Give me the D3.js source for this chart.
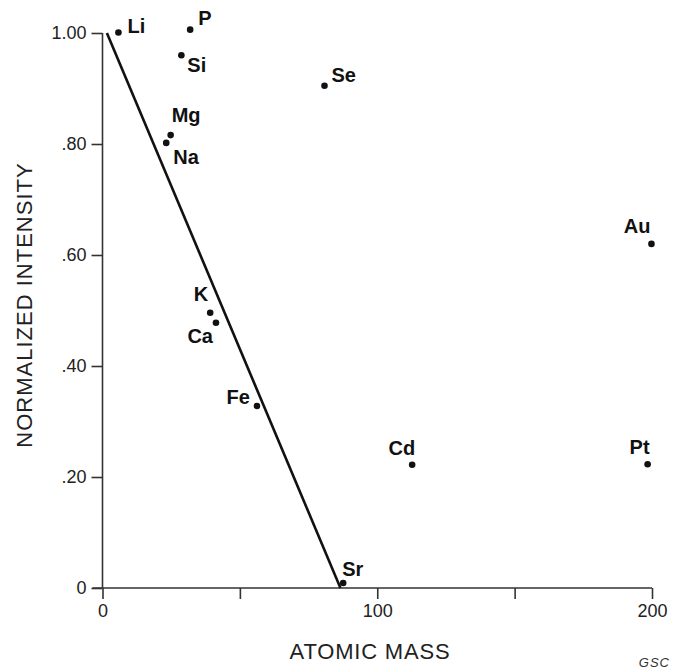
<!DOCTYPE html>
<html>
<head>
<meta charset="utf-8">
<script src="https://cdn.jsdelivr.net/npm/d3@7"></script>
<style>
  body { margin: 0; background: #fff; }
  svg { font-family: "Liberation Sans", Arial, sans-serif; }
</style>
</head>
<body>
<div id="chart"></div>
<script>
// Size of the page and plot area
const width = 674;
const height = 672;
const margin = { left: 102.5, right: 22, top: 33, bottom: 84 };

// Data
const elements = ["Li", "P", "Si", "Se", "Mg", "Na", "K", "Ca", "Fe", "Sr", "Cd", "Pt", "Au"];
const atomicMass = [5.8, 31.9, 28.7, 80.8, 24.8, 23.2, 39.2, 41.3, 56.2, 87.6, 112.7, 198.4, 199.8];
const intensity = [1.001, 1.006, 0.960, 0.905, 0.816, 0.802, 0.496, 0.478, 0.328, 0.009, 0.222, 0.223, 0.620];
const fitLine = [{ x: 1.6, y: 1.0 }, { x: 86.6, y: 0.0 }];

const xTicks = [0, 50, 100, 150, 200];
const xTickLabels = ["0", "", "100", "", "200"];
const yTicks = [0, 0.2, 0.4, 0.6, 0.8, 1.0];
const yTickLabels = ["0", ".20", ".40", ".60", ".80", "1.00"];

// label placement (offset from dot, text anchor)
const labelPos = {
  Li: [9, 1, "start"], P: [8, -5, "start"], Si: [6, 17, "start"],
  Se: [7, -4, "start"], Mg: [1, -13, "start"], Na: [7, 21, "start"],
  K: [-2, -12, "end"], Ca: [-3, 20, "end"], Fe: [-7, -2, "end"],
  Sr: [-1, -7, "start"], Cd: [3, -10, "end"], Pt: [2, -10, "end"],
  Au: [-1, -11, "end"]
};

const data = elements.map((e, i) => ({ name: e, x: atomicMass[i], y: intensity[i] }));

const svg = d3.select("#chart")
  .append("svg")
  .attr("width", width)
  .attr("height", height);

// scales
const xScale = d3.scaleLinear()
  .domain([0, 200])
  .range([margin.left, width - margin.right]);

const yScale = d3.scaleLinear()
  .domain([0, 1])
  .range([height - margin.bottom, margin.top]);

// y axis
const yAxis = svg.append("g")
  .attr("transform", `translate(${margin.left},0)`)
  .call(d3.axisLeft(yScale)
    .tickValues(yTicks)
    .tickSize(11)
    .tickPadding(5)
    .tickFormat((d, i) => yTickLabels[i]));
yAxis.select(".domain").attr("d", `M0,${yScale(1)}V${yScale(0)}`)
  .attr("stroke", "#333").attr("stroke-width", 1.6);
yAxis.selectAll(".tick line").attr("stroke", "#333").attr("stroke-width", 1.6);
yAxis.selectAll("text").attr("font-size", 18).attr("fill", "#222")
  .attr("font-family", "Liberation Sans, Arial, sans-serif");

// x axis
const xAxis = svg.append("g")
  .attr("transform", `translate(0,${height - margin.bottom})`)
  .call(d3.axisBottom(xScale)
    .tickValues(xTicks)
    .tickSize(11)
    .tickPadding(5)
    .tickFormat((d, i) => xTickLabels[i]));
xAxis.select(".domain").attr("d", `M${xScale(0) - 10},0H${xScale(200)}`)
  .attr("stroke", "#333").attr("stroke-width", 1.6);
xAxis.selectAll(".tick line").attr("stroke", "#333").attr("stroke-width", 1.6);
xAxis.selectAll("text").attr("font-size", 18).attr("fill", "#222")
  .attr("font-family", "Liberation Sans, Arial, sans-serif");

// axis titles
svg.append("text")
  .attr("x", 370)
  .attr("y", 659)
  .attr("text-anchor", "middle")
  .attr("font-size", 22)
  .attr("letter-spacing", 0.8)
  .attr("fill", "#222")
  .text("ATOMIC MASS");

svg.append("text")
  .attr("transform", `translate(32,305) rotate(-90)`)
  .attr("text-anchor", "middle")
  .attr("font-size", 22)
  .attr("letter-spacing", 1)
  .attr("fill", "#222")
  .text("NORMALIZED INTENSITY");

svg.append("text")
  .attr("x", 670)
  .attr("y", 667)
  .attr("text-anchor", "end")
  .attr("font-size", 13)
  .attr("font-style", "italic")
  .attr("letter-spacing", 1)
  .attr("fill", "#333")
  .text("GSC");

// regression line
svg.append("path")
  .datum(fitLine)
  .attr("fill", "none")
  .attr("stroke", "#111")
  .attr("stroke-width", 2.6)
  .attr("d", d3.line().x(d => xScale(d.x)).y(d => yScale(d.y)));

// points
svg.selectAll(".dot")
  .data(data)
  .enter()
  .append("circle")
  .attr("class", "dot")
  .attr("cx", d => xScale(d.x))
  .attr("cy", d => yScale(d.y))
  .attr("r", 3.3)
  .attr("fill", "#111");

// labels
svg.selectAll(".lbl")
  .data(data)
  .enter()
  .append("text")
  .attr("class", "lbl")
  .attr("x", d => xScale(d.x) + labelPos[d.name][0])
  .attr("y", d => yScale(d.y) + labelPos[d.name][1])
  .attr("text-anchor", d => labelPos[d.name][2])
  .attr("font-size", 20)
  .attr("font-weight", "bold")
  .attr("fill", "#111")
  .text(d => d.name);
</script>
</body>
</html>
